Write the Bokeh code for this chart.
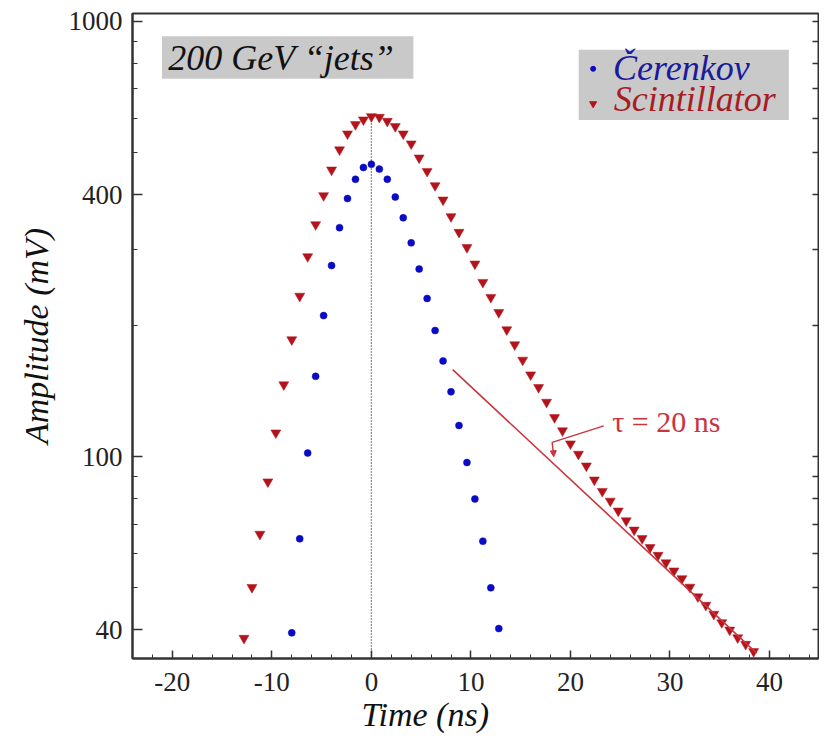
from bokeh.plotting import figure
from bokeh.models import (LogAxis, FixedTicker, SingleIntervalTicker, BasicTickFormatter,
                          CustomJSTickFormatter, Label, Range1d, Arrow, NormalHead, Title)
from bokeh.embed import file_html
from bokeh.resources import INLINE

# ---------------- data ----------------
cerenkov_t = [-8.0, -7.2, -6.4, -5.6, -4.8, -4.0, -3.2, -2.4, -1.6, -0.8, 0.0, 0.8, 1.6, 2.4,
              3.2, 4.0, 4.8, 5.6, 6.4, 7.2, 8.0, 8.8, 9.6, 10.4, 11.2, 12.0, 12.8]
cerenkov_mv = [39.4, 64.8, 102, 153, 211, 275, 336, 392, 434, 462, 470, 458, 434, 395,
               354, 310, 270, 231, 195, 166, 141, 118, 97, 80, 64, 50, 40.3]

scint_t = [-12.8, -12.0, -11.2, -10.4, -9.6, -8.8, -8.0, -7.2, -6.4, -5.6, -4.8, -4.0, -3.2,
           -2.4, -1.6, -0.8, 0.0, 0.8, 1.6, 2.4, 3.2, 4.0, 4.8, 5.6, 6.4, 7.2, 8.0, 8.8, 9.6,
           10.4, 11.2, 12.0, 12.8, 13.6, 14.4, 15.2, 16.0, 16.8, 17.6, 18.4, 19.2, 20.0, 20.8,
           21.6, 22.4, 23.2, 24.0, 24.8, 25.6, 26.4, 27.2, 28.0, 28.8, 29.6, 30.4, 31.2, 32.0,
           32.8, 33.6, 34.4, 35.2, 36.0, 36.8, 37.6, 38.4]
scint_mv = [38.3, 50.1, 66.4, 87.6, 113.5, 146.4, 185.8, 233.9, 288.3, 341.5, 398.1, 456.1,
            507.3, 551.9, 579.8, 594.3, 604.8, 602.6, 590.0, 573.7, 551.9, 523.6, 486.0, 452.7,
            419.8, 389.1, 356.3, 327.9, 302.7, 277.3, 251.6, 232.4, 214.6, 195.9, 180.9, 166.8,
            154.3, 144.3, 133.5, 123.1, 114.8, 107.1, 101.4, 95.3, 88.5, 83.3, 79.1, 75.1, 71.3,
            67.9, 64.9, 61.9, 59.4, 57.1, 54.7, 52.5, 50.2, 47.7, 45.6, 43.5, 41.6, 40.0, 38.4,
            37.1, 35.7]

# exponential fit line (tau = 20 ns) end points
fit_t = [8.17, 38.7]
fit_mv = [158.5, 35.4]

y_major = [40, 100, 400, 1000]
y_minor = [50, 60, 70, 80, 90, 200, 300, 500, 600, 700, 800, 900]

title_text = "200 GeV \u201cjets\u201d"
legend_labels = ["\u010cerenkov", "Scintillator"]
tau_text = "\u03c4 = 20 ns"
x_label = "Time (ns)"
y_label = "Amplitude (mV)"

# ---------------- styles ----------------
FONT = "Liberation Serif"
BLUE = "#0b0bc6"
RED = "#b3141c"
LINE_RED = "#c9353c"
AXIS = "#333333"
GRAY = "#c9c9c9"

X0, X1 = -24.0, 44.92
Y0, Y1 = 34.4, 1043

p = figure(width=819, height=742, x_range=Range1d(X0, X1), y_range=Range1d(Y0, Y1),
           y_axis_type="log", output_backend="svg", toolbar_location=None,
           min_border_left=132, min_border_right=1, min_border_top=13, min_border_bottom=84)
p.grid.visible = False
p.outline_line_color = AXIS
p.outline_line_width = 2
p.background_fill_color = "white"
p.border_fill_color = "white"

# x axis
xa = p.xaxis[0]
xa.ticker = SingleIntervalTicker(interval=10, num_minor_ticks=5)
xa.formatter = CustomJSTickFormatter(code="return tick.toString();")
xa.major_tick_in = 8
xa.major_tick_out = 0
xa.minor_tick_in = 4
xa.minor_tick_out = 0
xa.axis_line_width = 2
xa.axis_line_color = AXIS
xa.major_tick_line_color = AXIS
xa.minor_tick_line_color = AXIS
xa.major_tick_line_width = 1.5
xa.major_label_text_font = FONT
xa.major_label_text_font_size = "27px"
xa.major_label_text_color = "#222222"
xa.major_label_standoff = 14

# x axis title, placed below the tick labels and shifted left like the original
xt = Title(text=x_label, align="left", offset=229, standoff=0, text_font=FONT,
           text_font_style="italic", text_font_size="34px", text_color="#111111")
p.add_layout(xt, "below")

# y axis
ya = p.yaxis[0]
ya.ticker = FixedTicker(ticks=y_major, minor_ticks=y_minor)
ya.formatter = BasicTickFormatter(use_scientific=False)
ya.major_tick_in = 10
ya.major_tick_out = 0
ya.minor_tick_in = 5
ya.minor_tick_out = 0
ya.axis_line_width = 2
ya.axis_line_color = AXIS
ya.major_tick_line_color = AXIS
ya.minor_tick_line_color = AXIS
ya.major_tick_line_width = 1.5
ya.major_label_text_font = FONT
ya.major_label_text_font_size = "27px"
ya.major_label_text_color = "#222222"
ya.major_label_standoff = 10
ya.axis_label = y_label
ya.axis_label_text_font = FONT
ya.axis_label_text_font_style = "italic"
ya.axis_label_text_font_size = "34px"
ya.axis_label_text_color = "#111111"
ya.axis_label_standoff = 11

# right axis: ticks only (no labels)
ra = LogAxis(ticker=FixedTicker(ticks=[], minor_ticks=y_major + y_minor),
             major_label_standoff=0, axis_label_standoff=0,
             major_tick_in=0, major_tick_out=0, minor_tick_in=6, minor_tick_out=0,
             axis_line_color=None, major_tick_line_color=AXIS, minor_tick_line_color=AXIS,
             minor_tick_line_width=1.5)
p.add_layout(ra, "right")

# gray boxes
p.quad(left=[-21.04], right=[4.22], bottom=[738.4], top=[925], fill_color=GRAY, line_color=None)
p.quad(left=[20.83], right=[41.94], bottom=[594], top=[861], fill_color=GRAY, line_color=None)

# dotted vertical line at t = 0
p.segment(x0=[0], y0=[Y0], x1=[0], y1=[615], line_color="#222222", line_width=1.3,
          line_dash="1 2")

# data
p.scatter(scint_t, scint_mv, marker="inverted_triangle", size=10, fill_color=RED,
          line_color=RED, line_width=0.5)
p.scatter(cerenkov_t, cerenkov_mv, marker="circle", size=7, fill_color=BLUE,
          line_color=BLUE, line_width=0.5)

# fit line
p.line(fit_t, fit_mv, line_color=LINE_RED, line_width=1.6)

# tau pointer
p.line([23.35, 18.16, 18.28], [117.8, 107.9, 102.0], line_color=LINE_RED, line_width=1.4)
p.add_layout(Arrow(end=NormalHead(size=6, fill_color=LINE_RED, line_color=LINE_RED),
                   x_start=18.28, y_start=103.0, x_end=18.32, y_end=100.0,
                   line_color=LINE_RED, line_width=1.4))

# legend markers
p.scatter([22.28], [778.5], marker="circle", size=5, fill_color=BLUE, line_color=BLUE)
p.scatter([22.28], [647], marker="inverted_triangle", size=7, fill_color=RED, line_color=RED)

# texts
p.add_layout(Label(x=-20.4, y=825.2, text=title_text, text_font=FONT, text_font_style="italic",
                   text_font_size="36px", text_color="#111111", text_baseline="alphabetic"))
p.add_layout(Label(x=24.28, y=782.7, text=legend_labels[0], text_font=FONT,
                   text_font_style="italic", text_font_size="36px", text_color="#1a1a9e",
                   text_baseline="alphabetic"))
p.add_layout(Label(x=24.36, y=661.9, text=legend_labels[1], text_font=FONT,
                   text_font_style="italic", text_font_size="36px", text_color="#a81c24",
                   text_baseline="alphabetic"))
p.add_layout(Label(x=24.19, y=120.5, text=tau_text, text_font=FONT, text_font_size="30px",
                   text_color=LINE_RED, text_baseline="alphabetic"))

open("out.html", "w").write(file_html(p, INLINE))
